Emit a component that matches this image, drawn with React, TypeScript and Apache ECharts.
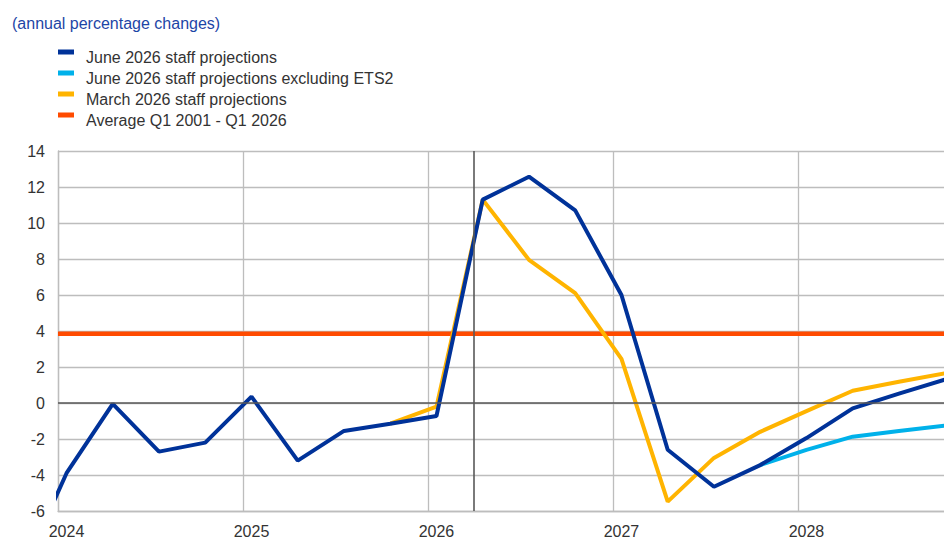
import React, { useEffect, useRef } from "react";
import * as echarts from "echarts";

// Quarterly observations / projections (annual percentage changes)
const quarters = [
  "2023Q4",
  "2024Q1", "2024Q2", "2024Q3", "2024Q4",
  "2025Q1", "2025Q2", "2025Q3", "2025Q4",
  "2026Q1", "2026Q2", "2026Q3", "2026Q4",
  "2027Q1", "2027Q2", "2027Q3", "2027Q4",
  "2028Q1", "2028Q2", "2028Q3", "2028Q4",
];

const june2026 = [
  -9.6,
  -3.9, -0.05, -2.7, -2.2,
  0.35, -3.2, -1.55, -1.15,
  -0.72, 11.3, 12.57, 10.7,
  6.0, -2.6, -4.65, -3.45,
  -1.95, -0.3, 0.52, 1.3,
];

const june2026ExETS2 = [
  null,
  null, null, null, null,
  null, null, null, null,
  null, null, null, null,
  null, null, null, -3.45,
  -2.6, -1.87, -1.55, -1.25,
];

const march2026 = [
  null,
  null, null, null, null,
  null, null, null, -1.15,
  -0.2, 11.3, 7.95, 6.1,
  2.45, -5.48, -3.05, -1.6,
  -0.45, 0.68, 1.18, 1.65,
];

const averageValue = 3.85; // Average Q1 2001 - Q1 2026
const projectionStart = 2026.25;

const yTicks = { min: -6, max: 14, interval: 2 };
const xRange = { min: 2024, max: 2028.822 };

const seriesNames = [
  "June 2026 staff projections",
  "June 2026 staff projections excluding ETS2",
  "March 2026 staff projections",
  "Average Q1 2001 - Q1 2026",
];

const colors = {
  june: "#003299",
  juneEx: "#00b1ea",
  march: "#ffb400",
  avg: "#ff4b00",
};

const POINT_SHIFT = 0.046;

function quarterToX(q: string): number {
  const year = parseInt(q.slice(0, 4), 10);
  const qq = parseInt(q.slice(5), 10);
  return year + (qq - 1) * 0.25 + POINT_SHIFT;
}

function pairs(values: (number | null)[]) {
  return quarters.map((q, i) => [quarterToX(q), values[i] === null ? "-" : values[i]]);
}

export default function App() {
  const ref = useRef<HTMLDivElement>(null);

  useEffect(() => {
    document.body.style.margin = "0";
    if (!ref.current) return;
    const chart = echarts.init(ref.current, undefined, { renderer: "svg" });
    const font = "'Liberation Sans', Arial, sans-serif";
    const gridGray = "#bdbdbd";
    const darkGray = "#595959";
    const labelColor = "#333333";

    chart.setOption({
      animation: false,
      textStyle: { fontFamily: font },
      title: {
        text: "(annual percentage changes)",
        left: 12,
        top: 15,
        padding: 0,
        textStyle: { color: "#1d45a6", fontSize: 16, fontWeight: "normal", fontFamily: font },
      },
      legend: {
        data: seriesNames,
        orient: "vertical",
        left: 58,
        top: 49,
        padding: 0,
        itemGap: 5,
        itemWidth: 16,
        itemHeight: 15,
        icon: "path://M0,0H16V5H0Z M0,15H16",
        selectedMode: false,
        textStyle: {
          color: labelColor,
          fontSize: 16,
          fontFamily: font,
          lineHeight: 15,
          padding: [0, 0, 0, 7],
        },
      },
      grid: { left: 58, top: 151, right: 0, bottom: 41, containLabel: false },
      xAxis: {
        type: "value",
        min: xRange.min,
        max: xRange.max,
        interval: 1,
        axisLine: { show: true, onZero: false, lineStyle: { color: gridGray, width: 1.3 } },
        axisTick: { show: false },
        splitLine: { show: true, lineStyle: { color: gridGray, width: 1.3 } },
        axisLabel: {
          color: labelColor,
          fontSize: 16,
          fontFamily: font,
          margin: 12,
          showMaxLabel: false,
          padding: [0, 0, 0, 17],
          formatter: (v: number) => (Number.isInteger(v) ? String(v) : ""),
        },
      },
      yAxis: {
        type: "value",
        min: yTicks.min,
        max: yTicks.max,
        interval: yTicks.interval,
        axisLine: { show: true, lineStyle: { color: gridGray, width: 1.3 } },
        axisTick: { show: false },
        splitLine: { show: true, lineStyle: { color: gridGray, width: 1.3 } },
        axisLabel: { color: labelColor, fontSize: 16, fontFamily: font, margin: 13 },
      },
      series: [
        {
          name: "reference-lines",
          type: "line",
          data: [],
          z: 1,
          silent: true,
          markLine: {
            silent: true,
            symbol: "none",
            label: { show: false },
            lineStyle: { color: darkGray, width: 1.6, type: "solid" },
            data: [{ yAxis: 0 }, { xAxis: projectionStart }],
          },
        },
        {
          name: seriesNames[3],
          type: "line",
          data: [
            [xRange.min, averageValue],
            [xRange.max, averageValue],
          ],
          symbol: "none",
          z: 2,
          lineStyle: { color: colors.avg, width: 4.5 },
          itemStyle: { color: colors.avg },
        },
        {
          name: seriesNames[1],
          type: "line",
          data: pairs(june2026ExETS2),
          symbol: "none",
          z: 3,
          lineStyle: { color: colors.juneEx, width: 4 },
          itemStyle: { color: colors.juneEx },
        },
        {
          name: seriesNames[2],
          type: "line",
          data: pairs(march2026),
          symbol: "none",
          z: 3,
          lineStyle: { color: colors.march, width: 4 },
          itemStyle: { color: colors.march },
        },
        {
          name: seriesNames[0],
          type: "line",
          data: pairs(june2026),
          symbol: "none",
          z: 4,
          lineStyle: { color: colors.june, width: 4 },
          itemStyle: { color: colors.june },
        },
      ],
    });

    return () => {
      chart.dispose();
    };
  }, []);

  return (
    <div style={{ width: 944, height: 552, overflow: "hidden", position: "relative" }}>
      <div ref={ref} style={{ width: 950, height: 552 }} />
    </div>
  );
}
